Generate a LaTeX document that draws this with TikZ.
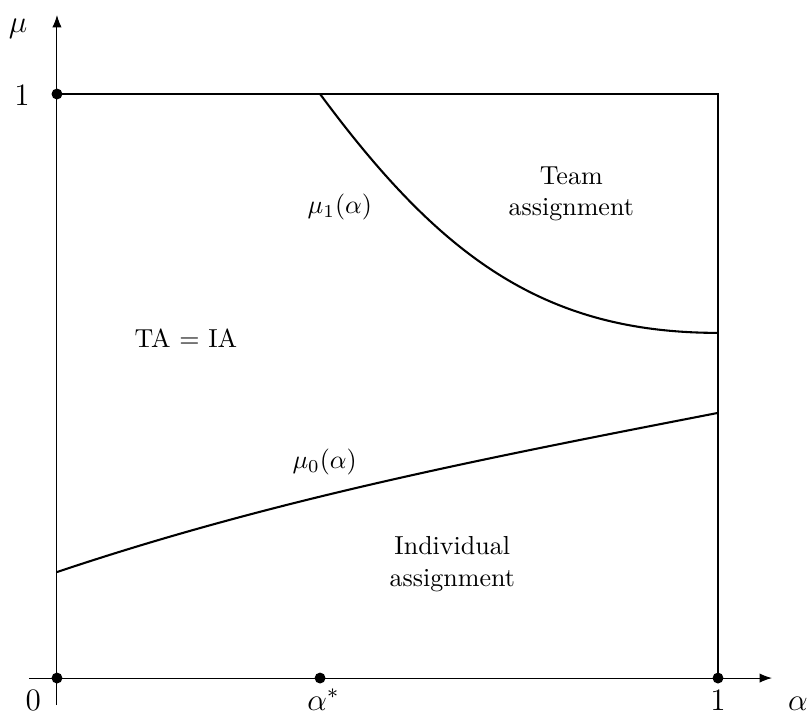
\documentclass[tikz,border=0pt]{standalone}
\usepackage{tikz}
\usetikzlibrary{arrows.meta, positioning, calc}
\usepackage{amsmath, amssymb}

\begin{document}
\begin{tikzpicture}[x=8.93cm, y=7.89cm, >=Latex, thin,
    dot/.style={circle, fill, inner sep=0pt, minimum size=4.2pt},
    curve/.style={thick},
    axislabel/.style={font=\large, anchor=base},
    region/.style={align=center}]
  \useasboundingbox (-0.0862,-0.0634) rectangle (1.1392,1.1610);

  % corners and break points
  \coordinate (o) at (0,0);
  \coordinate (astar) at (0.398,0);
  \coordinate (a1) at (1,0);
  \coordinate (m1) at (0,1);
  \coordinate (kink) at (0.398,1);
  \coordinate (corner) at (1,1);
  \coordinate (mu1end) at (1,0.591);
  \coordinate (mu0start) at (0,0.1815);
  \coordinate (mu0end) at (1,0.454);
  \coordinate (xstart) at (-0.0424,0);
  \coordinate (xend) at (1.0817,0);
  \coordinate (ystart) at (0,-0.0462);
  \coordinate (yend) at (0,1.1353);

  % axes and frame
  \draw[->] (xstart) -- (xend);
  \draw[->] (ystart) -- (yend);
  \draw (kink) -- (corner) -- (a1);

  % boundaries
  \draw[curve] (m1) -- (kink);
  \draw[curve] (kink) .. controls (0.579,0.723) and (0.735,0.591) .. (mu1end);
  \draw[curve] (mu0start) .. controls (0.33,0.307) and (0.65,0.377) .. (mu0end);

  % dots
  \node[dot] (d0) at (o) {};
  \node[dot] (dstar) at (astar) {};
  \node[dot] (d1) at (a1) {};
  \node[dot] (dm1) at (m1) {};

  % axis labels
  \node[axislabel] (lmu) at (-0.059,1.106) {$\mu$};
  \node[axislabel] (lone) at (-0.053,0.981) {$1$};
  \node[axislabel] (lzero) at (-0.036,-0.055) {$0$};
  \node[axislabel] (lstar) at (0.403,-0.055) {$\alpha^*$};
  \node[axislabel] (lxone) at (1,-0.055) {$1$};
  \node[axislabel] (lalpha) at (1.121,-0.055) {$\alpha$};

  % regions
  \node (lmu1) at (0.428,0.807) {$\mu_1(\alpha)$};
  \node (lmu0) at (0.405,0.370) {$\mu_0(\alpha)$};
  \node[region] (team) at (0.778,0.829) {Team\\assignment};
  \node (equal) at (0.195,0.582) {TA $=$ IA};
  \node[region] (indiv) at (0.598,0.195) {Individual\\assignment};
\end{tikzpicture}
\end{document}
